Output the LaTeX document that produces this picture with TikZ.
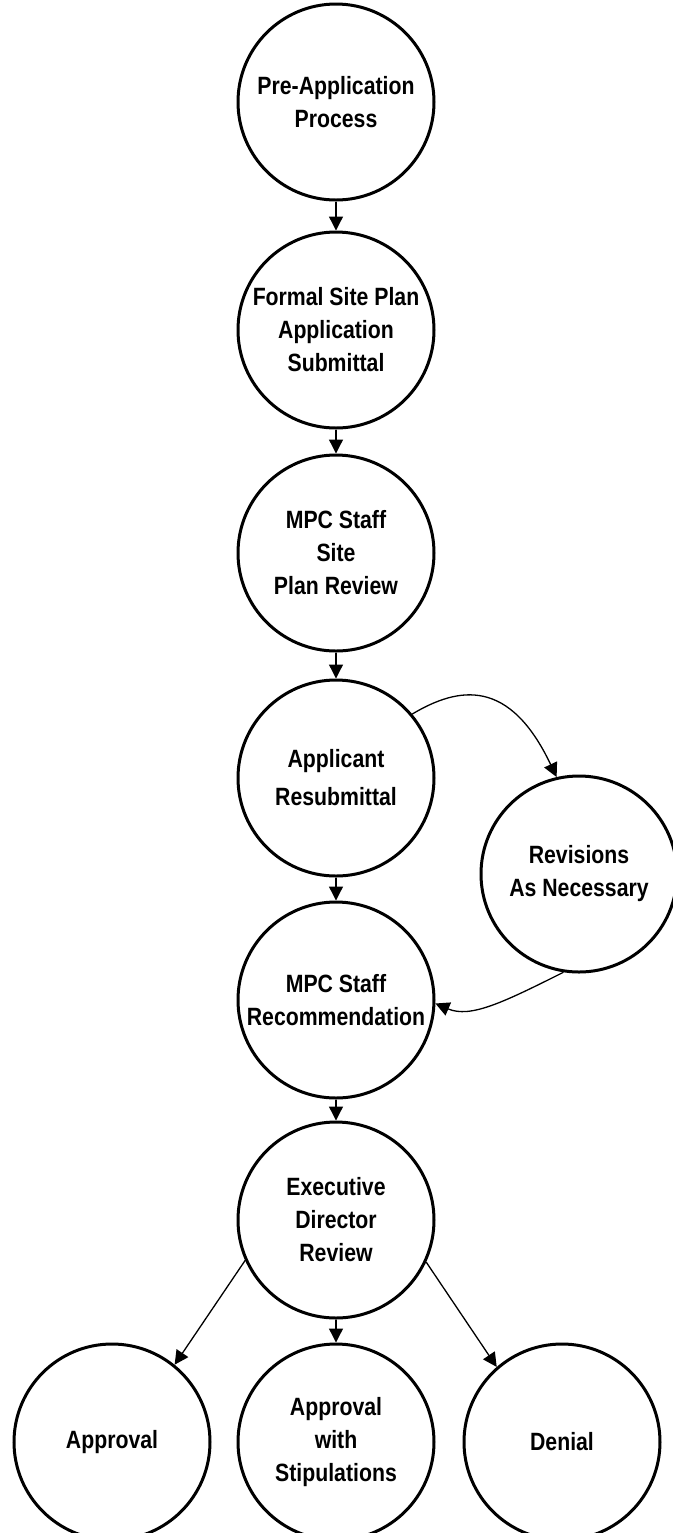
\documentclass[tikz,border=0pt]{standalone}
\usepackage{fontspec}
\newfontfamily\stagefont[FakeStretch=0.85]{Liberation Sans}
\usepackage{tikz}
\usetikzlibrary{arrows.meta}

\begin{document}
\begin{tikzpicture}[x=0.5pt,y=-0.5pt,
    stage/.style={draw,circle,line width=1.5pt,minimum size=98pt,inner sep=0pt,align=center,
      font=\stagefont\bfseries\fontsize{12.5}{16.5}\selectfont},
    flow/.style={-{Triangle[length=7pt,width=7pt]},line width=0.65pt}]
    \clip (0,0) rectangle (673,1533); % page
    % main column
    \node[stage] (pre) at (336,102) {Pre-Application\\Process};
    \node[stage] (formal) at (336,330) {Formal Site Plan\\Application\\Submittal};
    \node[stage] (review) at (336,553) {MPC Staff\\Site\\Plan Review};
    \node[stage] (resub) at (336,778) {Applicant\\[2.5pt]Resubmittal};
    \node[stage] (revise) at (579,874) {Revisions\\As Necessary};
    \node[stage] (recom) at (336,1000) {MPC Staff\\Recommendation};
    \node[stage] (exec) at (336,1220) {Executive\\Director\\Review};
    % outcomes
    \node[stage] (approve) at (112,1442) {Approval};
    \node[stage] (stip) at (336,1442) {Approval\\with\\Stipulations};
    \node[stage] (deny) at (562,1442) {Denial};
    % arrows
    \draw[flow] (pre) -- (formal);
    \draw[flow] (formal) -- (review);
    \draw[flow] (review) -- (resub);
    \draw[flow] (resub) -- (recom);
    \draw[flow] (recom) -- (exec);
    \draw[flow] (exec) -- (stip);
    \draw[flow] (resub.40) .. controls +(47,-28) and +(-47,-99) .. (revise.103); % to revisions
    \draw[flow] (revise.-99) .. controls +(-60,30) and +(35,15) .. (recom.-2); % back again
    \draw[flow] (exec.204) -- (approve.51);
    \draw[flow] (exec.-25) -- (deny.131);
\end{tikzpicture}
\end{document}
